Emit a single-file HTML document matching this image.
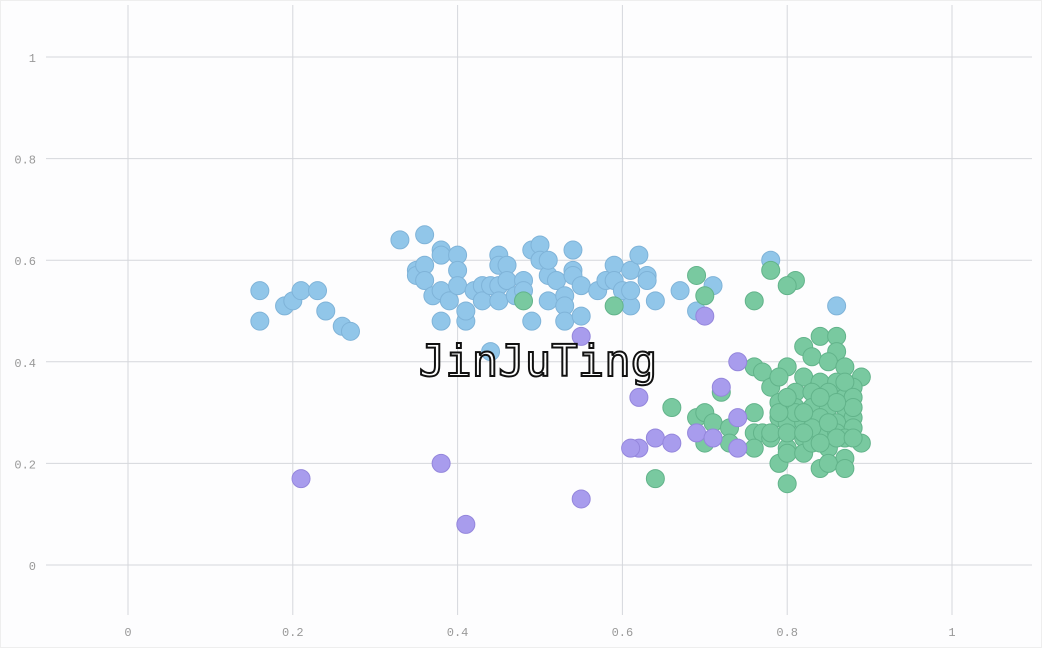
<!DOCTYPE html>
<html><head><meta charset="utf-8"><style>
html,body{margin:0;padding:0;background:#fff;}
svg{display:block;}
text{font-family:"Liberation Mono","DejaVu Sans Mono",monospace;}
</style></head><body>
<svg id="chart" width="1042" height="648" xmlns="http://www.w3.org/2000/svg">
<rect x="0.5" y="0.5" width="1041" height="647" fill="#fdfdfe" stroke="#eeeeee"/>
<g id="grid"></g><g id="axes"></g><g id="marks"></g>
<text x="538" y="376" text-anchor="middle" font-size="44" fill="#fff" stroke="#111" stroke-width="2" style="font-family:'DejaVu Sans Mono',monospace;">JinJuTing</text>
</svg>
<script>
const xTicks=[0,0.2,0.4,0.6,0.8,1];
const yTicks=[0,0.2,0.4,0.6,0.8,1];
const xTickLabels=["0","0.2","0.4","0.6","0.8","1"];
const yTickLabels=["0","0.2","0.4","0.6","0.8","1"];
const blueX=[0.16,0.16,0.19,0.20,0.21,0.23,0.24,0.26,0.27,0.33,0.36,0.35,0.35,0.36,0.36,0.37,0.38,0.38,0.38,0.38,0.39,0.40,0.40,0.40,0.41,0.41,0.42,0.43,0.43,0.44,0.45,0.45,0.45,0.45,0.46,0.46,0.47,0.48,0.48,0.49,0.49,0.50,0.50,0.51,0.51,0.51,0.52,0.53,0.53,0.53,0.54,0.54,0.54,0.55,0.55,0.57,0.58,0.59,0.59,0.60,0.61,0.61,0.61,0.62,0.63,0.63,0.64,0.67,0.69,0.71,0.78,0.86,0.44];
const blueY=[0.54,0.48,0.51,0.52,0.54,0.54,0.50,0.47,0.46,0.64,0.65,0.58,0.57,0.59,0.56,0.53,0.62,0.61,0.54,0.48,0.52,0.61,0.58,0.55,0.48,0.50,0.54,0.55,0.52,0.55,0.61,0.59,0.55,0.52,0.59,0.56,0.53,0.56,0.54,0.62,0.48,0.63,0.60,0.57,0.60,0.52,0.56,0.53,0.51,0.48,0.62,0.58,0.57,0.55,0.49,0.54,0.56,0.59,0.56,0.54,0.58,0.51,0.54,0.61,0.57,0.56,0.52,0.54,0.50,0.55,0.60,0.51,0.42];
const purpleX=[0.55,0.70,0.74,0.72,0.62,0.74,0.69,0.71,0.62,0.61,0.64,0.66,0.74,0.21,0.38,0.41,0.55];
const purpleY=[0.45,0.49,0.40,0.35,0.33,0.29,0.26,0.25,0.23,0.23,0.25,0.24,0.23,0.17,0.20,0.08,0.13];
const greenX=[0.48,0.59,0.69,0.70,0.76,0.78,0.81,0.80,0.64,0.66,0.69,0.70,0.71,0.70,0.72,0.73,0.73,0.76,0.76,0.76,0.77,0.77,0.78,0.78,0.79,0.80,0.80,0.76,
0.84,0.86,0.82,0.86,0.80,0.83,0.85,0.87,0.89,0.82,0.84,0.86,0.88,0.79,0.81,0.83,0.85,0.87,0.79,0.81,0.83,0.85,0.87,0.88,0.79,0.80,0.82,0.84,0.86,0.88,0.78,0.80,0.82,0.84,0.86,0.87,0.89,0.80,0.82,0.83,0.85,0.87,0.84,0.85,0.87,0.81,0.83,0.85,0.87,0.79,
0.88,0.88,0.86,0.84,0.82,0.80,0.86,0.88,0.84,0.82];
const greenY=[0.52,0.51,0.57,0.53,0.52,0.58,0.56,0.55,0.17,0.31,0.29,0.30,0.28,0.24,0.34,0.27,0.24,0.39,0.30,0.26,0.26,0.38,0.35,0.25,0.20,0.16,0.23,0.23,
0.45,0.45,0.43,0.42,0.39,0.41,0.40,0.39,0.37,0.37,0.36,0.36,0.35,0.37,0.34,0.34,0.34,0.33,0.32,0.31,0.31,0.31,0.31,0.29,0.29,0.28,0.28,0.29,0.28,0.27,0.26,0.26,0.25,0.26,0.26,0.25,0.24,0.22,0.22,0.24,0.23,0.21,0.19,0.20,0.19,0.30,0.27,0.28,0.36,0.30,
0.33,0.31,0.32,0.33,0.30,0.33,0.25,0.25,0.24,0.26];

const NS="http://www.w3.org/2000/svg";
const sx=v=>128+v*824;
const sy=v=>565-v*508;
const grid=document.getElementById('grid'),axes=document.getElementById('axes'),marks=document.getElementById('marks');
function mk(tag,attrs,parent){const e=document.createElementNS(NS,tag);for(const k in attrs)e.setAttribute(k,attrs[k]);parent.appendChild(e);return e;}
xTicks.forEach((t,i)=>{
  const l=mk('line',{x1:sx(t),x2:sx(t),y1:5,y2:615,stroke:'#d5d7dc','stroke-width':1},grid);
  
  
  const tx=mk('text',{x:sx(t),y:636,'text-anchor':'middle','font-size':12,fill:'#999'},axes);
  tx.textContent=xTickLabels[i];
  
  
});
yTicks.forEach((t,i)=>{
  const l=mk('line',{x1:46,x2:1032,y1:sy(t),y2:sy(t),stroke:'#d5d7dc','stroke-width':1},grid);
  
  
  const tx=mk('text',{x:36,y:sy(t)+5,'text-anchor':'end','font-size':12,fill:'#999'},axes);
  tx.textContent=yTickLabels[i];
  
  
});
function series(xs,ys,fill,stroke,name){
  xs.forEach((x,i)=>{
    const c=mk('circle',{cx:sx(x),cy:sy(ys[i]),r:9,fill:fill,stroke:stroke,'stroke-width':1},marks);
    
    
  });
}
series(blueX,blueY,'#91c6e9','#7fb3d8','blue-point');
series(greenX,greenY,'#79c9a0','#62b38a','green-point');
series(purpleX,purpleY,'#a89ced','#9486dc','purple-point');
</script>
</body></html>
